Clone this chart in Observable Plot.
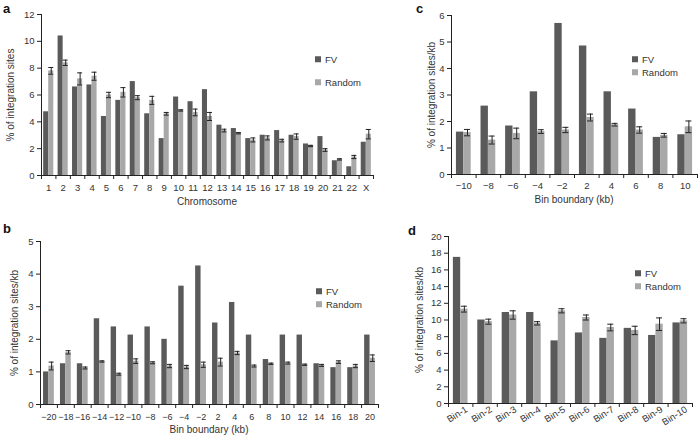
<!DOCTYPE html>
<html><head><meta charset="utf-8">
<script src="https://cdn.jsdelivr.net/npm/d3@7"></script>
<script src="https://cdn.jsdelivr.net/npm/@observablehq/plot@0.6"></script>
<style>
body{margin:0;background:#fff;font-family:"Liberation Sans",Arial,sans-serif;}
#root{position:relative;width:700px;height:439px;overflow:hidden;background:#fff;}
.pn{position:absolute;}
.t{position:absolute;font-size:10px;color:#333;white-space:nowrap;line-height:1;}
.ty{transform:translate(-50%,-50%) rotate(-90deg);}
.tx{transform:translate(-50%,-50%);}
.letter{position:absolute;font-weight:bold;font-size:13px;color:#111;line-height:1;}
.leg{position:absolute;font-size:9.5px;color:#333;line-height:1;white-space:nowrap;transform:translateY(-50%);}
.leg span{display:inline-block;width:6px;height:6px;margin-right:4px;vertical-align:middle;position:relative;top:-1px;}
</style></head>
<body><div id="root"></div>
<script>
const FV_COLOR = "#5a5a5a";
const RND_COLOR = "#a8a8a8";

// Panel a
const chromLabels = ["1","2","3","4","5","6","7","8","9","10","11","12","13","14","15","16","17","18","19","20","21","22","X"];
const chromFV     = [4.75,10.4,6.6,6.75,4.4,5.6,7.0,4.6,2.75,5.85,5.5,6.4,3.75,3.5,2.75,3.0,3.35,3.0,2.35,2.9,1.1,0.65,2.48];
const chromRandom = [7.8,8.4,7.2,7.4,6.0,6.2,5.8,5.6,4.6,4.85,4.7,4.4,3.35,3.15,2.65,2.8,2.6,2.9,2.2,1.9,1.2,1.38,3.08];
const chromErr    = [0.25,0.2,0.45,0.3,0.2,0.35,0.15,0.3,0.1,0.05,0.25,0.3,0.1,0.05,0.15,0.15,0.1,0.2,0.05,0.1,0.05,0.12,0.35];

// Panel b
const bLabels = ["\u221220","\u221218","\u221216","\u221214","\u221212","\u221210","\u22128","\u22126","\u22124","\u22122","2","4","6","8","10","12","14","16","18","20"];
const bFV     = [1.0,1.25,1.25,2.63,2.38,2.13,2.38,2.0,3.63,4.25,2.5,3.13,2.13,1.38,2.13,2.13,1.25,1.13,1.13,2.13];
const bRandom = [1.18,1.6,1.12,1.32,0.93,1.33,1.28,1.18,1.15,1.22,1.3,1.58,1.18,1.25,1.27,1.22,1.2,1.3,1.18,1.42];
const bErr    = [0.12,0.05,0.03,0.02,0.03,0.07,0.03,0.05,0.05,0.08,0.12,0.05,0.03,0.02,0.03,0.02,0.03,0.04,0.05,0.1];

// Panel c
const cLabels = ["\u221210","\u22128","\u22126","\u22124","\u22122","2","4","6","8","10"];
const cFV     = [1.6,2.58,1.83,3.12,5.7,4.85,3.12,2.47,1.4,1.5];
const cRandom = [1.58,1.3,1.55,1.62,1.68,2.15,1.88,1.68,1.48,1.8];
const cErr    = [0.12,0.15,0.2,0.07,0.1,0.13,0.05,0.12,0.07,0.22];

// Panel d
const dLabels = ["Bin-1","Bin-2","Bin-3","Bin-4","Bin-5","Bin-6","Bin-7","Bin-8","Bin-9","Bin-10"];
const dFV     = [17.5,10.0,10.9,10.9,7.5,8.45,7.8,9.0,8.15,9.65];
const dRandom = [11.3,9.8,10.6,9.6,11.1,10.3,9.1,8.75,9.5,9.9];
const dErr    = [0.35,0.3,0.5,0.2,0.25,0.3,0.4,0.5,0.75,0.25];

const seriesNames = ["FV","Random"];

const root = document.getElementById("root");
const intFmt = d3.format("d");

function panel(cfg){
  const n = cfg.labels.length;
  const rows = cfg.labels.map((l,i)=>({i, label:l, fv:cfg.fv[i], rnd:cfg.rnd[i], err:cfg.err[i]}));
  const bw = cfg.bw;
  const plotW = cfg.width - cfg.mL - cfg.mR;
  const cap = cfg.capPx / (plotW / n);
  const cx = d => d.i + 0.5 + bw/2;
  const svg = Plot.plot({
    width: cfg.width, height: cfg.height,
    marginLeft: cfg.mL, marginRight: cfg.mR, marginTop: cfg.mT, marginBottom: cfg.mB,
    style: {fontFamily: '"Liberation Sans", Arial, sans-serif', fontSize: "9.5px", color: "#333", background: "transparent", overflow: "visible"},
    x: {domain: [0, n], label: null},
    y: {domain: [0, cfg.yMax], label: null},
    marks: [
      Plot.rectY(rows, {x1: d => d.i + 0.5 - bw, x2: d => d.i + 0.5, y: "fv", fill: FV_COLOR}),
      Plot.rectY(rows, {x1: d => d.i + 0.5, x2: d => d.i + 0.5 + bw, y: "rnd", fill: RND_COLOR}),
      Plot.ruleX(rows, {x: cx, y1: d => d.rnd - d.err, y2: d => d.rnd + d.err, stroke: "#222", strokeWidth: 1}),
      Plot.ruleY(rows, {y: d => d.rnd + d.err, x1: d => cx(d) - cap, x2: d => cx(d) + cap, stroke: "#222", strokeWidth: 1}),
      Plot.ruleY(rows, {y: d => d.rnd - d.err, x1: d => cx(d) - cap, x2: d => cx(d) + cap, stroke: "#222", strokeWidth: 1}),
      Plot.ruleX([0], {stroke: "#222"}),
      Plot.ruleY([0], {stroke: "#222"}),
      Plot.axisY({ticks: d3.range(0, cfg.yMax + cfg.yStep/2, cfg.yStep), tickFormat: intFmt, tickSize: 4, tickPadding: 3, label: null, stroke: "#222"}),
      Plot.axisX({ticks: d3.range(n + 1), tickSize: 4, tickFormat: () => "", label: null, stroke: "#222"}),
      Plot.axisX({ticks: d3.range(n).map(i => i + 0.5), tickSize: 0, tickPadding: cfg.tickPad, tickRotate: cfg.rotate || 0, dx: cfg.labelDx || 0,
                  fontSize: cfg.xFont || 9.5,
                  tickFormat: v => cfg.labels[Math.floor(v)], label: null})
    ]
  });
  svg.classList.add("pn");
  svg.style.left = cfg.left + "px";
  svg.style.top = cfg.top + "px";
  root.appendChild(svg);

  const add = (cls, txt, x, y) => {
    const el = document.createElement("div");
    el.className = cls; el.textContent = txt;
    el.style.left = x + "px"; el.style.top = y + "px";
    root.appendChild(el); return el;
  };
  add("letter", cfg.letter, cfg.letterX, cfg.letterY);
  add("t ty", cfg.yTitle, cfg.yTitleX, cfg.yTitleY);
  if (cfg.xTitle) add("t tx", cfg.xTitle, cfg.xTitleX, cfg.xTitleY);
  const colors = [FV_COLOR, RND_COLOR];
  seriesNames.forEach((s, k) => {
    const el = add("leg", "", cfg.legX, cfg.legY[k]);
    const sw = document.createElement("span"); sw.style.background = colors[k];
    el.appendChild(sw); el.appendChild(document.createTextNode(s));
  });
}

panel({letter:"a", letterX:3, letterY:2, labels:chromLabels, fv:chromFV, rnd:chromRandom, err:chromErr,
  yMax:12, yStep:2, left:0, top:0, width:380, height:215, mL:41, mR:7, mT:14, mB:40, bw:0.35, capPx:2.5, tickPad:9,
  yTitle:"% of integration sites", yTitleX:11, yTitleY:94.5, xTitle:"Chromosome", xTitleX:207, xTitleY:202,
  legX:315, legY:[60,83]});

panel({letter:"b", letterX:3, letterY:222, labels:bLabels, fv:bFV, rnd:bRandom, err:bErr,
  yMax:5, yStep:1, left:0, top:215, width:380, height:224, mL:40, mR:2, mT:26, mB:35, bw:0.32, capPx:2.5, tickPad:9, xFont:9,
  yTitle:"% of integration sites/kb", yTitleX:15, yTitleY:322.5, xTitle:"Bin boundary (kb)", xTitleX:209, xTitleY:430,
  legX:316, legY:[292,305]});

panel({letter:"c", letterX:416, letterY:2, labels:cLabels, fv:cFV, rnd:cRandom, err:cErr,
  yMax:6, yStep:1, left:400, top:0, width:300, height:215, mL:51, mR:3, mT:15, mB:41, bw:0.3, capPx:3, tickPad:8,
  yTitle:"% of integration sites/kb", yTitleX:432, yTitleY:94.5, xTitle:"Bin boundary (kb)", xTitleX:574, xTitleY:200,
  legX:632, legY:[60,73]});

panel({letter:"d", letterX:408, letterY:224, labels:dLabels, fv:dFV, rnd:dRandom, err:dErr,
  yMax:20, yStep:2, left:400, top:215, width:300, height:224, mL:48, mR:8, mT:21, mB:36, bw:0.3, capPx:3, tickPad:5,
  rotate:-32, labelDx:6,
  yTitle:"% of integration sites/kb", yTitleX:420, yTitleY:319.5, xTitle:null,
  legX:635, legY:[274,287]});
</script>
</body></html>
